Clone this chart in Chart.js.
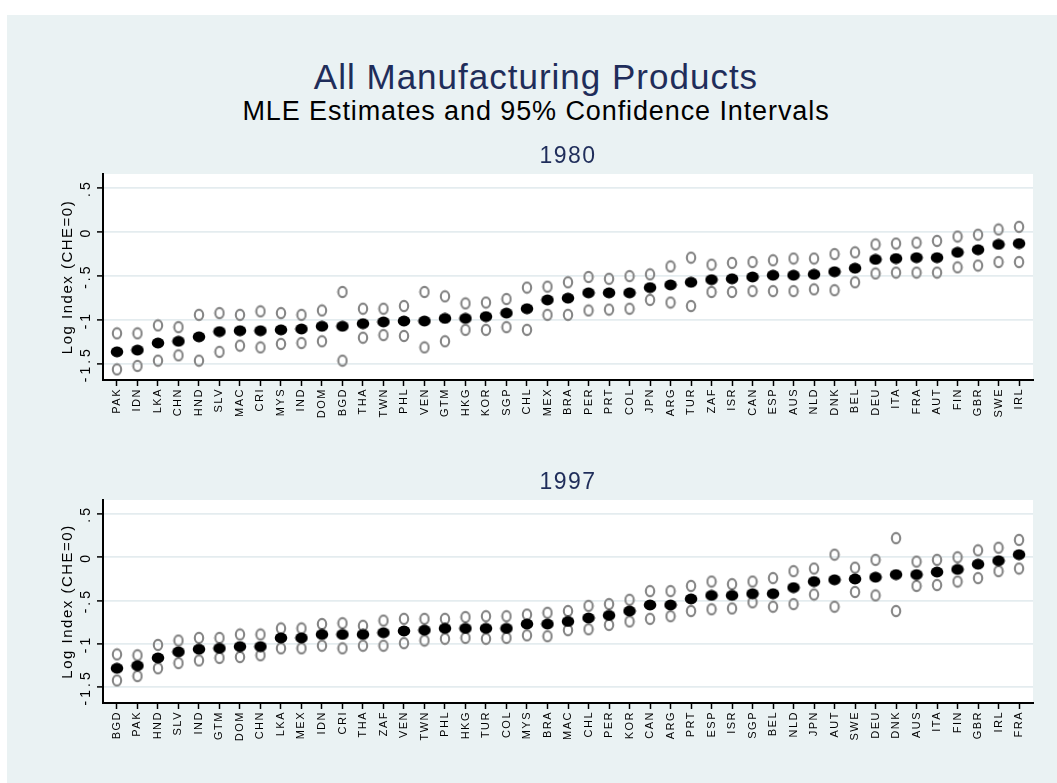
<!DOCTYPE html>
<html lang="en">
<head>
<meta charset="UTF-8">
<title>All Manufacturing Products</title>
<script src="https://cdn.jsdelivr.net/npm/chart.js"></script>
<style>
body { margin: 0; background: #fff; font-family: "Liberation Sans", Arial, sans-serif; }
#frame { position: absolute; left: 7px; top: 15px; width: 1050px; height: 768px; background: #eaf2f3; }
.main { position: absolute; left: 0; width: 1072px; text-align: center; white-space: nowrap; }
#t1 { top: 57px; font-size: 35px; line-height: 40px; color: #1f2d5a; letter-spacing: 1px; }
#t2 { top: 96px; font-size: 27px; line-height: 30px; color: #000; letter-spacing: 0.9px; }
canvas { position: absolute; left: 0; }
</style>
</head>
<body>
<div id="frame"></div>
<div class="main" id="t1">All Manufacturing Products</div>
<div class="main" id="t2">MLE Estimates and 95% Confidence Intervals</div>
<canvas id="p1980" width="1057" height="300" style="top:140px"></canvas>
<canvas id="p1997" width="1057" height="297" style="top:466px"></canvas>

<script>
// 1980 panel, countries sorted by estimate
const countries1980 = ['PAK','IDN','LKA','CHN','HND','SLV','MAC','CRI','MYS','IND','DOM','BGD','THA','TWN','PHL',
  'VEN','GTM','HKG','KOR','SGP','CHL','MEX','BRA','PER','PRT','COL','JPN','ARG','TUR','ZAF',
  'ISR','CAN','ESP','AUS','NLD','DNK','BEL','DEU','ITA','FRA','AUT','FIN','GBR','SWE','IRL'];
const est1980 = [-1.36,-1.34,-1.26,-1.24,-1.19,-1.13,-1.12,-1.12,-1.11,-1.10,-1.07,-1.07,-1.04,-1.02,-1.01,
  -1.01,-0.98,-0.98,-0.96,-0.92,-0.87,-0.77,-0.75,-0.69,-0.69,-0.69,-0.63,-0.60,-0.57,-0.54,
  -0.53,-0.51,-0.49,-0.49,-0.48,-0.45,-0.41,-0.31,-0.30,-0.29,-0.29,-0.23,-0.20,-0.14,-0.13];
const lo1980 = [-1.56,-1.52,-1.46,-1.40,-1.46,-1.36,-1.29,-1.31,-1.27,-1.26,-1.24,-1.46,-1.20,-1.17,-1.18,
  -1.31,-1.24,-1.11,-1.11,-1.08,-1.11,-0.94,-0.94,-0.89,-0.88,-0.87,-0.77,-0.80,-0.84,-0.68,
  -0.68,-0.67,-0.67,-0.67,-0.65,-0.66,-0.57,-0.47,-0.46,-0.46,-0.46,-0.40,-0.38,-0.34,-0.34];
const hi1980 = [-1.15,-1.15,-1.06,-1.08,-0.94,-0.92,-0.94,-0.90,-0.92,-0.94,-0.89,-0.68,-0.87,-0.87,-0.84,
  -0.68,-0.73,-0.81,-0.80,-0.76,-0.63,-0.62,-0.57,-0.51,-0.53,-0.50,-0.48,-0.39,-0.29,-0.37,
  -0.35,-0.34,-0.32,-0.30,-0.30,-0.25,-0.23,-0.14,-0.13,-0.12,-0.10,-0.05,-0.03,0.03,0.06];

// 1997 panel
const countries1997 = ['BGD','PAK','HND','SLV','IND','GTM','DOM','CHN','LKA','MEX','IDN','CRI','THA','ZAF','VEN',
  'TWN','PHL','HKG','TUR','COL','MYS','BRA','MAC','CHL','PER','KOR','CAN','ARG','PRT','ESP',
  'ISR','SGP','BEL','NLD','JPN','AUT','SWE','DEU','DNK','AUS','ITA','FIN','GBR','IRL','FRA'];
const est1997 = [-1.28,-1.25,-1.16,-1.09,-1.06,-1.05,-1.03,-1.03,-0.93,-0.93,-0.89,-0.89,-0.89,-0.87,-0.85,
  -0.84,-0.82,-0.82,-0.82,-0.82,-0.77,-0.77,-0.74,-0.70,-0.67,-0.62,-0.55,-0.55,-0.48,-0.44,
  -0.44,-0.42,-0.42,-0.35,-0.28,-0.26,-0.25,-0.23,-0.20,-0.20,-0.17,-0.14,-0.08,-0.04,0.03];
const lo1997 = [-1.42,-1.37,-1.28,-1.22,-1.19,-1.16,-1.15,-1.13,-1.05,-1.05,-1.02,-1.05,-1.02,-1.02,-0.99,
  -0.96,-0.94,-0.93,-0.94,-0.93,-0.90,-0.91,-0.84,-0.83,-0.78,-0.74,-0.71,-0.68,-0.62,-0.60,
  -0.59,-0.52,-0.57,-0.54,-0.43,-0.57,-0.40,-0.44,-0.62,-0.33,-0.32,-0.28,-0.24,-0.16,-0.13];
const hi1997 = [-1.12,-1.13,-1.01,-0.96,-0.93,-0.93,-0.89,-0.89,-0.82,-0.82,-0.77,-0.76,-0.79,-0.73,-0.71,
  -0.71,-0.71,-0.69,-0.68,-0.68,-0.66,-0.64,-0.62,-0.56,-0.54,-0.49,-0.39,-0.39,-0.33,-0.28,
  -0.31,-0.28,-0.24,-0.16,-0.13,0.03,-0.12,-0.03,0.22,-0.05,-0.03,0.00,0.08,0.11,0.20];

const yTicks = [-1.5, -1, -0.5, 0, 0.5];
const yTickLabels = ['-1.5', '-1', '-.5', '0', '.5'];

const FONT = '"Liberation Sans", Arial, sans-serif';
const NAVY = '#1f2d5a';

// marker images (Stata draws them slightly oval)
function ellipseImg(w, h, rx, ry, fill, stroke, lw) {
    const c = document.createElement('canvas');
    c.width = w; c.height = h;
    const g = c.getContext('2d');
    g.beginPath();
    g.ellipse(w / 2, h / 2, rx, ry, 0, 0, 2 * Math.PI);
    if (fill) { g.fillStyle = fill; g.fill(); }
    if (stroke) { g.strokeStyle = stroke; g.lineWidth = lw; g.stroke(); }
    return c;
}
const dotImg = ellipseImg(14, 12, 6.3, 5.4, '#000', null, 0);
const ringImg = ellipseImg(12, 14, 4.2, 5.1, null, '#858585', 2.1);

const panelLook = {
    id: 'panelLook',
    beforeDraw(chart) {
        const a = chart.chartArea, ctx = chart.ctx;
        ctx.letterSpacing = '1.5px';
        ctx.save();
        ctx.fillStyle = '#fff';
        ctx.fillRect(a.left, a.top, a.right - a.left, a.bottom - a.top);
        ctx.restore();
    },
    afterDraw(chart) {
        // rotated y tick labels
        const ctx = chart.ctx, y = chart.scales.y;
        ctx.save();
        ctx.letterSpacing = '3px';
        ctx.font = '14px ' + FONT;
        ctx.fillStyle = '#000';
        ctx.textAlign = 'center';
        ctx.textBaseline = 'middle';
        yTicks.forEach((v, i) => {
            ctx.save();
            ctx.translate(86, y.getPixelForValue(v));
            ctx.rotate(-Math.PI / 2);
            ctx.fillText(yTickLabels[i], 0, 0);
            ctx.restore();
        });
        ctx.restore();
    }
};

function makePanel(id, year, cats, est, lo, hi) {
    const pts = arr => arr.map((v, i) => ({x: i, y: v}));
    new Chart(document.getElementById(id), {
        type: 'scatter',
        data: {
            datasets: [
                {label: 'Estimate', data: pts(est), pointStyle: dotImg},
                {label: 'Upper', data: pts(hi), pointStyle: ringImg},
                {label: 'Lower', data: pts(lo), pointStyle: ringImg}
            ]
        },
        options: {
            responsive: false,
            animation: false,
            layout: {padding: {left: 0, right: 24, top: 0, bottom: 0}},
            plugins: {
                legend: {display: false},
                tooltip: {enabled: false},
                title: {
                    display: true, text: year, fullSize: false, color: NAVY,
                    font: {family: FONT, size: 23, weight: 'normal'},
                    padding: {top: 3, bottom: 3.4}
                }
            },
            scales: {
                x: {
                    type: 'linear', min: -0.68, max: cats.length - 0.32,
                    afterBuildTicks: s => { s.ticks = cats.map((c, i) => ({value: i})); },
                    afterFit: s => { s.height = 60; },
                    ticks: {
                        autoSkip: false, minRotation: 90, maxRotation: 90, padding: 2,
                        color: '#000', font: {family: FONT, size: 11},
                        callback: v => cats[v]
                    },
                    grid: {drawOnChartArea: false, drawTicks: true, tickLength: 6, tickColor: '#000', tickWidth: 1.5},
                    border: {color: '#000', width: 2}
                },
                y: {
                    min: -1.68, max: 0.66,
                    afterBuildTicks: s => { s.ticks = yTicks.map(v => ({value: v})); },
                    afterFit: s => { s.width = 103; },
                    ticks: {display: false},
                    grid: {color: '#e4ecef', lineWidth: 1.8, tickColor: '#000', tickLength: 6, tickWidth: 1.5},
                    border: {color: '#000', width: 2},
                    title: {
                        display: true, text: 'Log Index (CHE=0)', color: '#000',
                        font: {family: FONT, size: 15}, padding: {top: 59, bottom: 0}
                    }
                }
            }
        },
        plugins: [panelLook]
    });
}

makePanel('p1980', '1980', countries1980, est1980, lo1980, hi1980);
makePanel('p1997', '1997', countries1997, est1997, lo1997, hi1997);
</script>
</body>
</html>
